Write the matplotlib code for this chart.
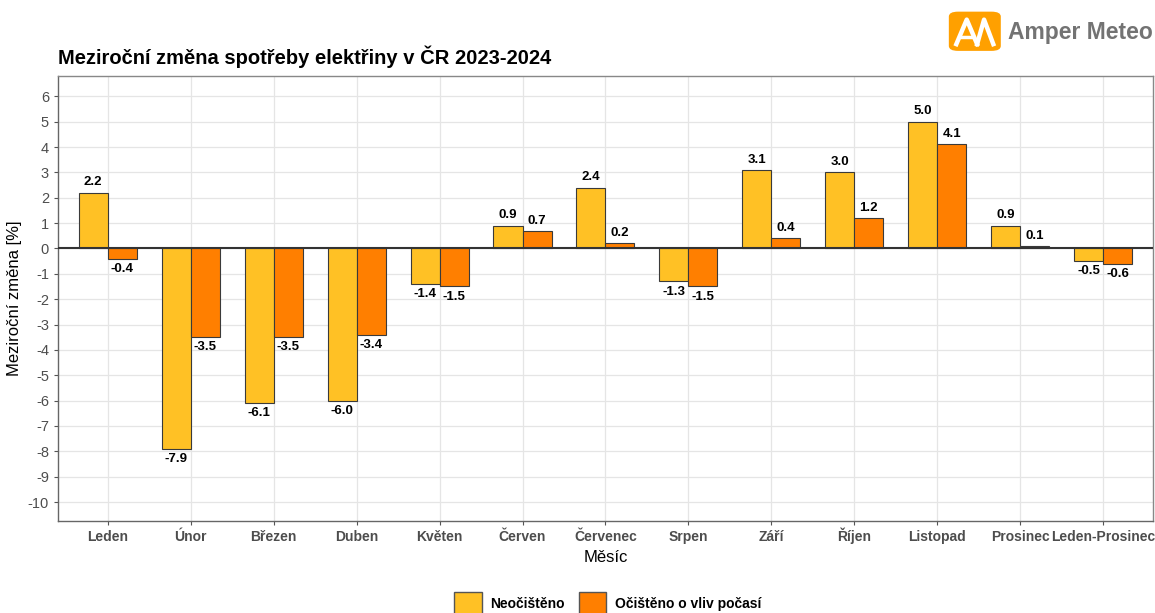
import numpy as np
import matplotlib.pyplot as plt
from matplotlib.patches import FancyBboxPatch, Patch
from matplotlib.lines import Line2D

plt.rcParams['font.family'] = ['Liberation Sans', 'DejaVu Sans']
plt.rcParams['axes.unicode_minus'] = False

mesice = ['Leden', 'Únor', 'Březen', 'Duben', 'Květen', 'Červen', 'Červenec',
          'Srpen', 'Září', 'Říjen', 'Listopad', 'Prosinec', 'Leden-Prosinec']
neocisteno = [2.2, -7.9, -6.1, -6.0, -1.4, 0.9, 2.4, -1.3, 3.1, 3.0, 5.0, 0.9, -0.5]
ocisteno = [-0.4, -3.5, -3.5, -3.4, -1.5, 0.7, 0.2, -1.5, 0.4, 1.2, 4.1, 0.1, -0.6]
y_ticks = list(range(-10, 7))

c_yellow = '#FFC125'
c_orange = '#FF7F00'

fig = plt.figure(figsize=(11.55, 6.13), dpi=100)
ax = fig.add_axes([0.0502, 0.150, 0.948, 0.726])

x = np.arange(len(mesice))
w = 0.35
b1 = ax.bar(x - w / 2, neocisteno, w, color=c_yellow, edgecolor='#3a3a3a', linewidth=0.8, zorder=3)
b2 = ax.bar(x + w / 2, ocisteno, w, color=c_orange, edgecolor='#3a3a3a', linewidth=0.8, zorder=3)

for bars, vals in ((b1, neocisteno), (b2, ocisteno)):
    for r, v in zip(bars, vals):
        cx = r.get_x() + r.get_width() / 2
        if v >= 0:
            ax.annotate(f'{v:.1f}', (cx, v), xytext=(0, 3), textcoords='offset points',
                        ha='center', va='bottom', fontsize=9.5, fontweight='bold', zorder=4)
        else:
            ax.annotate(f'{v:.1f}', (cx, v), xytext=(0, -3), textcoords='offset points',
                        ha='center', va='top', fontsize=9.5, fontweight='bold', zorder=4)

ax.axhline(0, color='#333333', linewidth=1.5, zorder=3.5)

ax.set_xlim(-0.6, len(mesice) - 0.4)
ax.set_ylim(-10.75, 6.8)
ax.set_yticks(y_ticks)
ax.set_xticks(x)
ax.set_xticklabels(mesice, fontsize=10, fontweight='bold', color='#4D4D4D')
for lab in ax.get_xticklabels():
    lab.set_verticalalignment('baseline')
ax.tick_params(axis='y', labelsize=10.5, labelcolor='#4D4D4D', color='#555555', length=3)
ax.tick_params(axis='x', color='#555555', length=3, pad=11.5)
ax.grid(True, color='#E5E5E5', linewidth=0.9, zorder=0)
ax.set_axisbelow(True)
for s in ax.spines.values():
    s.set_color('#888888')
    s.set_linewidth(1.0)
ax.spines['left'].set_color('#666666')
ax.spines['bottom'].set_color('#666666')

ax.set_xlabel('Měsíc', fontsize=12, labelpad=4)
ax.set_ylabel('Meziroční změna [%]', fontsize=12, labelpad=4)

fig.text(0.0502, 0.907, 'Meziroční změna spotřeby elektřiny v ČR 2023-2024',
         fontsize=14.5, fontweight='bold', ha='left', va='center')

handles = [Patch(facecolor=c_yellow, edgecolor='#555555', label='Neočištěno'),
           Patch(facecolor=c_orange, edgecolor='#555555', label='Očištěno o vliv počasí')]
leg = fig.legend(handles=handles, loc='center', bbox_to_anchor=(0.526, 0.016), ncol=2,
                 frameon=False, handlelength=2.0, handleheight=2.0, columnspacing=1.0,
                 handletextpad=0.6, prop={'weight': 'bold', 'size': 10})

# logo
logo = FancyBboxPatch((0.8215, 0.917), 0.045, 0.064, boxstyle='round,pad=0,rounding_size=0.008',
                      transform=fig.transFigure, facecolor='#FFA000', edgecolor='none')
fig.patches.append(logo)
lx = [0.828, 0.837, 0.846, 0.852, 0.860]
ly = [0.928, 0.968, 0.928, 0.968, 0.928]
fig.lines.append(Line2D(lx[:3], ly[:3], transform=fig.transFigure, color='white', linewidth=3.2))
fig.lines.append(Line2D(lx[2:], ly[2:], transform=fig.transFigure, color='white', linewidth=3.2))
fig.lines.append(Line2D([0.831, 0.842], [0.940, 0.940], transform=fig.transFigure, color='white', linewidth=2.5))
fig.text(0.998, 0.947, 'Amper Meteo', fontsize=16.5, fontweight='bold', color='#737373',
         ha='right', va='center')

fig.savefig('out.png', dpi=100)
